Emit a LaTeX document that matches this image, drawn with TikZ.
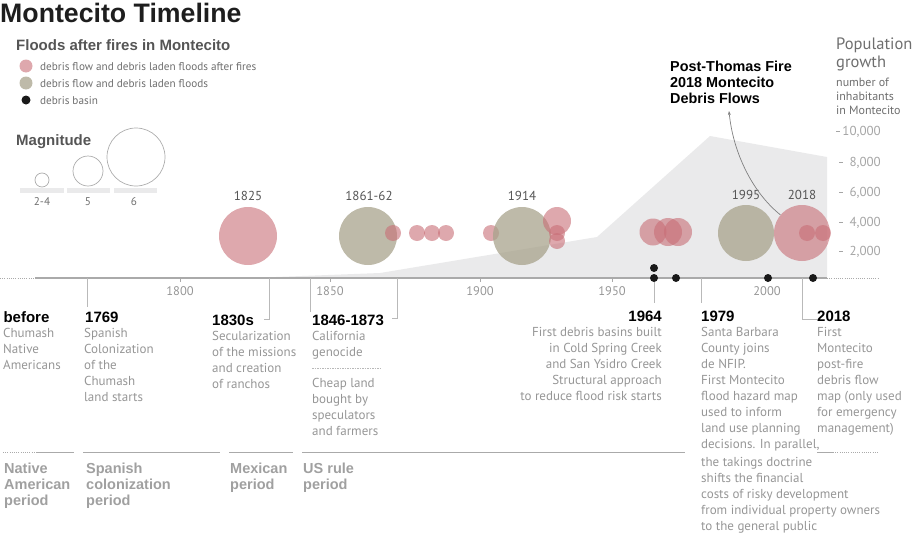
\documentclass[tikz,border=0pt]{standalone}
\usepackage{fontspec}
\setmainfont{PT Sans}
\newfontfamily\arialf{Liberation Sans}
\usetikzlibrary{arrows.meta}
\definecolor{pinkc}{RGB}{200,110,118}
\definecolor{beigec}{RGB}{168,163,140}
\definecolor{popgrey}{RGB}{234,234,235}
\definecolor{bodyc}{RGB}{150,150,150}
\definecolor{perc}{RGB}{160,160,160}
\definecolor{darkg}{RGB}{85,85,85}
\definecolor{midg}{RGB}{110,110,110}
\definecolor{linec}{RGB}{185,185,185}
\definecolor{axisc}{RGB}{170,170,170}
\definecolor{scalec}{RGB}{165,165,165}
\tikzset{
  hdr/.style={font=\arialf\bfseries\fontsize{15}{16}\selectfont, text=black, anchor=base west, inner sep=0},
  body/.style={font=\fontsize{13}{16}\selectfont, text=bodyc, anchor=north west, inner sep=0, align=left},
  bodyr/.style={body, anchor=north east, align=right},
  period/.style={font=\arialf\bfseries\fontsize{14.5}{16}\selectfont, text=perc, anchor=north west, inner sep=0, align=left},
  yearlbl/.style={font=\fontsize{13}{14}\selectfont, text=darkg, anchor=base, inner sep=0},
  axlbl/.style={font=\fontsize{12.5}{14}\selectfont, text=bodyc, anchor=base, inner sep=0},
  legtxt/.style={font=\fontsize{11.2}{13}\selectfont, text=midg, anchor=base west, inner sep=0},
  scalelbl/.style={font=\fontsize{13}{14}\selectfont, text=scalec, anchor=base east, inner sep=0},
  pinkdot/.style={circle, fill=pinkc, fill opacity=0.6, inner sep=0, draw=none},
  beigedot/.style={circle, fill=beigec, fill opacity=0.75, inner sep=0, draw=none},
  conn/.style={draw=linec, line width=0.8pt},
  perline/.style={draw=axisc, line width=1.1pt},
  dotline/.style={draw=axisc, line width=0.9pt, dash pattern=on 0.9pt off 1.3pt},
  magc/.style={draw=gray!65, line width=0.7pt},
}
\begin{document}
\begin{tikzpicture}[x=1pt,y=-1pt]
\useasboundingbox (0,0) rectangle (913,533);
% population area
\fill[popgrey] (250,278) -- (380,273) -- (597,237) -- (710,136) -- (827,157) -- (827,278) -- cycle;

% title
\node[font=\arialf\bfseries\fontsize{26.7}{28}\selectfont, text={rgb,255:red,30;green,30;blue,30}, anchor=base west, inner sep=0] (title) at (0,22) {Montecito Timeline};

% legend
\node[font=\arialf\bfseries\fontsize{15}{16}\selectfont, text=darkg, anchor=base west, inner sep=0] (legtitle) at (16,50.5) {Floods after fires in Montecito};
\node[pinkdot, minimum size=13pt] (lp) at (26,66) {};
\node[beigedot, minimum size=13pt] (lb) at (26,83) {};
\node[circle, fill=black!90, inner sep=0, minimum size=9pt] (lk) at (26,100) {};
\node[legtxt] (lpt) at (40,70) {debris flow and debris laden floods after fires};
\node[legtxt] (lbt) at (40,87) {debris flow and debris laden floods};
\node[legtxt] (lkt) at (40,104) {debris basin};

\node[font=\arialf\bfseries\fontsize{15}{16}\selectfont, text=darkg, anchor=base west, inner sep=0] (magt) at (16,145) {Magnitude};
\fill[popgrey] (20,188) rectangle (64,193);
\fill[popgrey] (67,188) rectangle (110,193);
\fill[popgrey] (114,188) rectangle (157,193);
\node[magc, circle, inner sep=0, minimum size=14pt] (m1) at (42,180) {};
\node[magc, circle, inner sep=0, minimum size=30pt] (m2) at (88,171) {};
\node[magc, circle, inner sep=0, minimum size=58pt] (m3) at (136,157) {};
\node[legtxt, anchor=base, text=midg] (m1l) at (42,205.5) {2-4};
\node[legtxt, anchor=base, text=midg] (m2l) at (88,205.5) {5};
\node[legtxt, anchor=base, text=midg] (m3l) at (134,205.5) {6};

% population scale
\node[font=\fontsize{16.5}{18}\selectfont, text=midg, anchor=base west, inner sep=0] (popt) at (836,49.5) {Population};
\node[font=\fontsize{16.5}{18}\selectfont, text=midg, anchor=base west, inner sep=0] (popg) at (836,67) {growth};
\node[font=\fontsize{12}{14}\selectfont, text=midg, anchor=north west, inner sep=0, align=left] (popn) at (836,76) {\strut number of\\inhabitants\\in Montecito};
\foreach \yy/\dx in {131/836, 162/839, 192/839, 222/839, 251/839}{
  \draw[draw=scalec, line width=0.9pt] (\dx,\yy) -- ++(4,0);
}
\node[scalelbl] (s10) at (881,135.5) {10,000};
\node[scalelbl] (s8) at (881,166.5) {8,000};
\node[scalelbl] (s6) at (881,196.5) {6,000};
\node[scalelbl] (s4) at (881,226.5) {4,000};
\node[scalelbl] (s2) at (881,255.5) {2,000};

% flood circles
\node[pinkdot, minimum size=58pt] (c1825) at (248,236) {};
\node[beigedot, minimum size=58pt] (c1861) at (368,236) {};
\foreach \xx in {393,417,432,446,491}{ \fill[pinkc, fill opacity=0.6] (\xx,233) circle (8); }
\node[beigedot, minimum size=58pt] (c1914) at (522,236) {};
\fill[pinkc, fill opacity=0.6] (557,221) circle (14);
\fill[pinkc, fill opacity=0.6] (557,233) circle (8);
\fill[pinkc, fill opacity=0.6] (557,241) circle (8);
\fill[pinkc, fill opacity=0.6] (653,232) circle (13.5);
\fill[pinkc, fill opacity=0.6] (668,232) circle (14);
\fill[pinkc, fill opacity=0.6] (678,232) circle (14);
\node[beigedot, minimum size=56pt] (c1995) at (746,233) {};
\node[pinkdot, minimum size=56pt] (c2018) at (802,233) {};
\fill[pinkc, fill opacity=0.6] (807,233) circle (8);
\fill[pinkc, fill opacity=0.6] (823,233) circle (8);

\node[yearlbl] (y1825) at (248,200.5) {1825};
\node[yearlbl] (y1861) at (369,200.5) {1861-62};
\node[yearlbl] (y1914) at (522,200.5) {1914};
\node[yearlbl] (y1995) at (746,199.5) {1995};
\node[yearlbl] (y2018) at (802,199.5) {2018};

% annotation
\node[font=\arialf\bfseries\fontsize{14.4}{16}\selectfont, text=black, anchor=north west, inner sep=0, align=left] (postthomas) at (670,59.8) {\strut Post-Thomas Fire\\2018 Montecito\\Debris Flows};
\coordinate (arrtip) at (729,111);
\draw[draw=gray, line width=0.7pt, -{Stealth[length=4pt,width=3pt]}] (c2018.140) .. controls (752,192) and (733,152) .. (arrtip);

% axis
\coordinate (axL) at (35,278);
\coordinate (axR) at (827,278);
\draw[dotline] (0,278) -- (axL);
\draw[draw=axisc, line width=1.3pt] (axL) -- (axR);
\draw[dotline] (axR) -- (878,278);
\foreach \xx/\lab in {180/1800, 330/1850, 480/1900, 612/1950, 767/2000}{
  \draw[draw=axisc, line width=0.8pt] (\xx,278) -- (\xx,281.5);
  \node[axlbl] at (\xx,295.5) {\lab};
}

% debris basins
\foreach \xx/\yy in {654/268, 654/278, 676/278, 768/278, 813/278}{ \fill[black!90] (\xx,\yy) circle (4); }

% connectors
\coordinate (t1769) at (87,278);
\coordinate (t1830) at (269,278);
\coordinate (t1846) at (310,278);
\coordinate (t1873) at (397,278);
\coordinate (t1964) at (654,282);
\coordinate (t1979) at (701,278);
\coordinate (t2018) at (802,278);
\draw[conn] (t1769) -- ++(0,29);
\draw[conn] (t1830) -- ++(0,41) -- ++(-5,0);
\draw[conn] (t1846) -- ++(0,34);
\draw[conn] (t1873) -- ++(0,40) -- ++(-5,0);
\draw[conn] (t1964) -- (654,303);
\draw[conn] (t1979) -- ++(0,25);
\draw[conn] (t2018) -- ++(0,41) -- ++(15,0);

% event texts
\node[hdr] (hbefore) at (3.3,322) {before};
\node[body] (bbefore) at (3,326.3) {\strut Chumash\\Native\\Americans};
\node[hdr] (h1769) at (85,322) {1769};
\node[body] (b1769) at (84,326.3) {\strut Spanish\\Colonization\\of the\\Chumash\\land starts};
\node[hdr] (h1830) at (212,325) {1830s};
\node[body] (b1830) at (212,329.3) {\strut Secularization\\of the missions\\and creation\\of ranchos};
\node[hdr] (h1846) at (312,325) {1846-1873};
\node[body] (b1846a) at (312,328.8) {\strut California\\genocide};
\draw[draw=linec, line width=0.8pt, dash pattern=on 1.5pt off 1pt] (312,368) -- (380,368);
\node[body] (b1846b) at (312,376.3) {\strut Cheap land\\bought by\\speculators\\and farmers};
\node[hdr, anchor=base east] (h1964) at (662,321) {1964};
\node[bodyr] (b1964) at (662,325.3) {\strut First debris basins built\\in Cold Spring Creek\\and San Ysidro Creek\\Structural approach\\to reduce flood risk starts};
\node[hdr] (h1979) at (701,321) {1979};
\node[body] (b1979a) at (701,325.3) {\strut Santa Barbara\\County joins\\de NFIP.\\First Montecito\\flood hazard map\\used to inform\\land use planning\\decisions. In parallel,};
\node[body] (b1979b) at (701,455.3) {\strut the takings doctrine\\shifts the financial\\costs of risky development\\from individual property owners\\to the general public};
\node[hdr] (h2018) at (817,321) {2018};
\node[body] (b2018) at (817,325.3) {\strut First\\Montecito\\post-fire\\debris flow\\map (only used\\for emergency\\management)};

% periods
\draw[dotline] (3,452.5) -- (37,452.5);
\draw[perline] (37,452.5) -- (74,452.5);
\draw[perline] (83,452.5) -- (220,452.5);
\draw[perline] (229,452.5) -- (293,452.5);
\draw[perline] (302,452.5) -- (685,452.5);
\draw[perline] (817,452.5) -- (833,452.5);
\draw[dotline] (833,452.5) -- (878,452.5);
\node[period] (pnat) at (4,461.8) {\strut Native\\American\\period};
\node[period] (pspa) at (86,461.8) {\strut Spanish\\colonization\\period};
\node[period] (pmex) at (230,461.8) {\strut Mexican\\period};
\node[period] (pus) at (303,461.8) {\strut US rule\\period};
\end{tikzpicture}
\end{document}
